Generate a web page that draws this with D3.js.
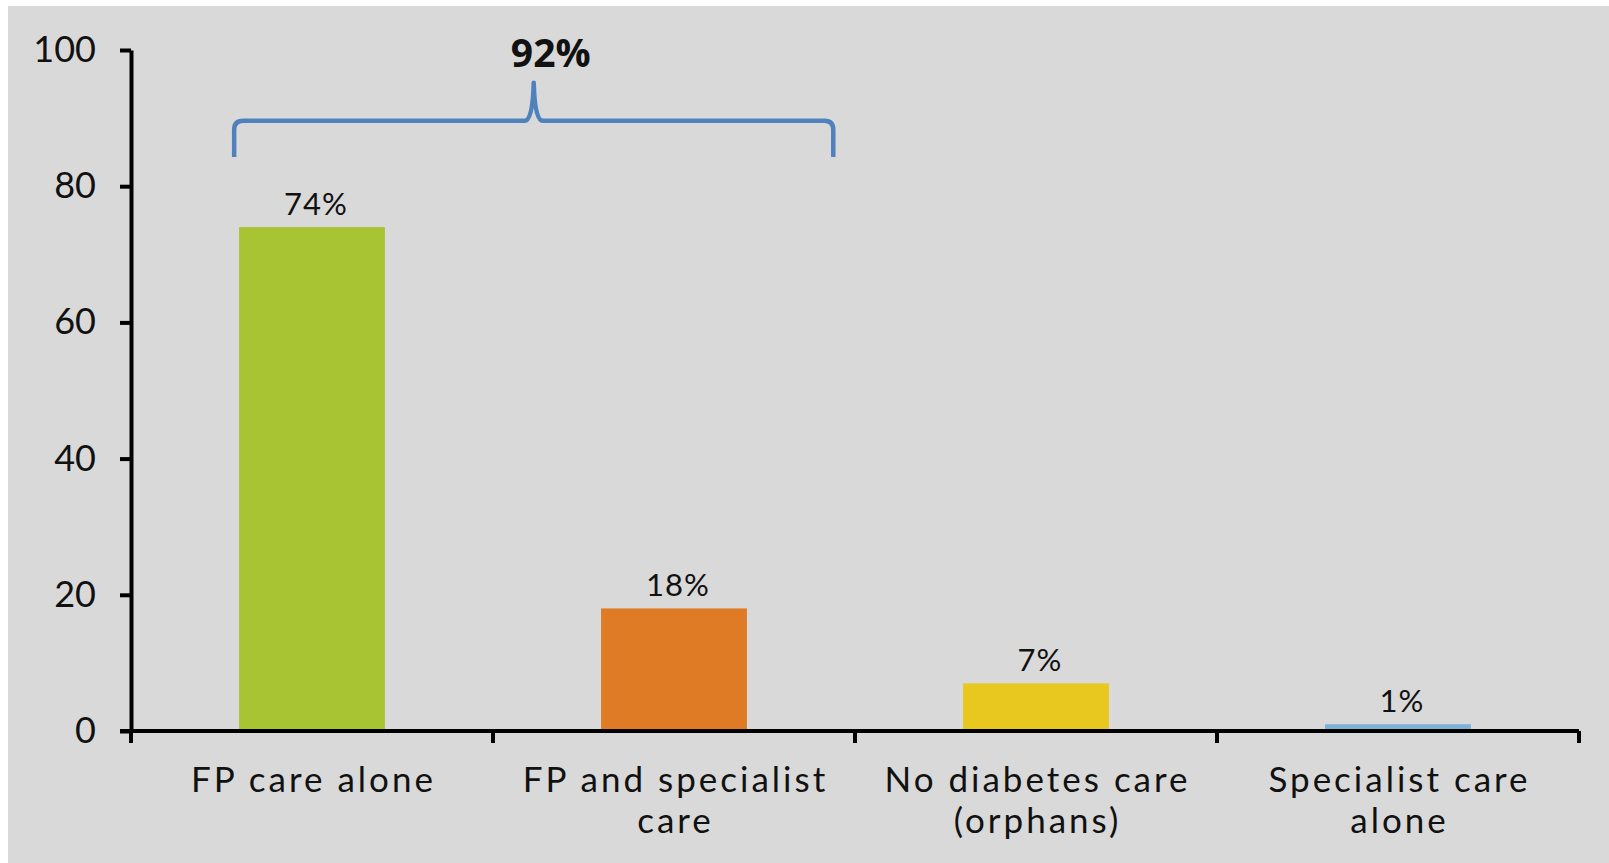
<!DOCTYPE html>
<html>
<head>
<meta charset="utf-8">
<script src="https://cdn.jsdelivr.net/npm/d3@7"></script>
<style>
  html, body { margin: 0; padding: 0; background: #ffffff; }
  svg { display: block; }
  .axis path, .axis line { stroke: #000; }
</style>
</head>
<body>
<div id="chart"></div>
<script>
// data
const categories = ["FP care alone", "FP and specialist care", "No diabetes care (orphans)", "Specialist care alone"];
const categoryLines = [["FP care alone"], ["FP and specialist", "care"], ["No diabetes care", "(orphans)"], ["Specialist care", "alone"]];
const values = [74, 18, 7, 1];
const barColors = ["#a8c433", "#df7b24", "#e8c81f", "#7eb2d6"];
const yTicks = [0, 20, 40, 60, 80, 100];
const braceLabel = "92%";

const W = 1609, H = 863;
const font = "Lato, 'Open Sans', sans-serif";

const svg = d3.select("#chart")
  .append("svg")
  .attr("width", W)
  .attr("height", H);

// grey plot background with a thin white border top/left
svg.append("rect")
  .attr("x", 8)
  .attr("y", 6)
  .attr("width", W - 8)
  .attr("height", H - 6)
  .attr("fill", "#d9d9d9");

const x = d3.scaleBand()
  .domain(categories)
  .range([131, 1579])
  .padding(0);

const y = d3.scaleLinear()
  .domain([0, 100])
  .range([731, 50]);

const barFrac = 0.403;

// bars
svg.append("g")
  .selectAll("rect")
  .data(categories)
  .enter()
  .append("rect")
  .attr("x", d => x(d) + x.bandwidth() * (1 - barFrac) / 2)
  .attr("width", x.bandwidth() * barFrac)
  .attr("y", (d, i) => y(values[i]))
  .attr("height", (d, i) => y(0) - y(values[i]))
  .attr("fill", (d, i) => barColors[i]);

// value labels
svg.append("g")
  .selectAll("text")
  .data(categories)
  .enter()
  .append("text")
  .attr("x", d => x(d) + x.bandwidth() / 2 + 4)
  .attr("y", (d, i) => y(values[i]) - 12)
  .attr("text-anchor", "middle")
  .style("font-family", font)
  .style("font-size", "31px")
  .style("letter-spacing", "1px")
  .attr("fill", "#111")
  .text((d, i) => values[i] + "%");

// y axis
const yAxis = svg.append("g")
  .attr("class", "axis")
  .attr("transform", `translate(${x.range()[0]},0)`)
  .call(d3.axisLeft(y).tickValues(yTicks).tickSize(11).tickPadding(24).tickSizeOuter(0));
yAxis.select(".domain").attr("stroke-width", 4);
yAxis.selectAll(".tick line").attr("stroke-width", 4);
yAxis.selectAll(".tick text")
  .style("font-family", font)
  .style("font-size", "36px")
  .attr("fill", "#111");

// x axis line + boundary ticks
const xAxis = svg.append("g")
  .attr("class", "axis")
  .attr("transform", `translate(0,${y(0)})`);
xAxis.append("line")
  .attr("x1", x.range()[0] - 11)
  .attr("x2", x.range()[1])
  .attr("stroke-width", 4);
const bounds = categories.map(c => x(c)).concat([x.range()[1]]);
xAxis.selectAll(".bound")
  .data(bounds)
  .enter()
  .append("line")
  .attr("class", "bound")
  .attr("x1", d => d)
  .attr("x2", d => d)
  .attr("y1", 0)
  .attr("y2", 12)
  .attr("stroke-width", 4);

// category labels
const catText = xAxis.selectAll(".cat")
  .data(categories)
  .enter()
  .append("text")
  .attr("class", "cat")
  .attr("x", d => x(d) + x.bandwidth() / 2 + 1.5)
  .attr("y", 61)
  .attr("text-anchor", "middle")
  .style("font-family", font)
  .style("font-size", "35px")
  .style("letter-spacing", "3px")
  .attr("fill", "#111");
catText.selectAll("tspan")
  .data((d, i) => categoryLines[i])
  .enter()
  .append("tspan")
  .attr("x", function() { return d3.select(this.parentNode).attr("x"); })
  .attr("dy", (d, i) => i === 0 ? 0 : 41)
  .text(d => d);

// brace over the first two categories
const bx0 = x(categories[0]) + x.bandwidth() * 0.285;
const bx1 = x(categories[1]) + x.bandwidth() * 0.94;
const bmid = (bx0 + bx1) / 2;
const yEnd = y(84.3), yLevel = y(89.6), yPeak = y(95.2);
const r = 9;
const brace = d3.path();
brace.moveTo(bx0, yEnd);
brace.lineTo(bx0, yLevel + r);
brace.quadraticCurveTo(bx0, yLevel, bx0 + r, yLevel);
brace.lineTo(bmid - 9, yLevel);
brace.quadraticCurveTo(bmid - 1, yLevel, bmid, yPeak);
brace.quadraticCurveTo(bmid + 1, yLevel, bmid + 9, yLevel);
brace.lineTo(bx1 - r, yLevel);
brace.quadraticCurveTo(bx1, yLevel, bx1, yLevel + r);
brace.lineTo(bx1, yEnd);

svg.append("path")
  .attr("d", brace.toString())
  .attr("fill", "none")
  .attr("stroke", "#4f81bd")
  .attr("stroke-width", 4.5)
  .attr("stroke-linejoin", "round");

svg.append("text")
  .attr("x", bmid + 17)
  .attr("y", y(95.2) - 16)
  .attr("text-anchor", "middle")
  .style("font-family", "'Open Sans', sans-serif")
  .style("font-size", "39px")
  .style("font-weight", "bold")
  .attr("fill", "#111")
  .text(braceLabel);
</script>
</body>
</html>
